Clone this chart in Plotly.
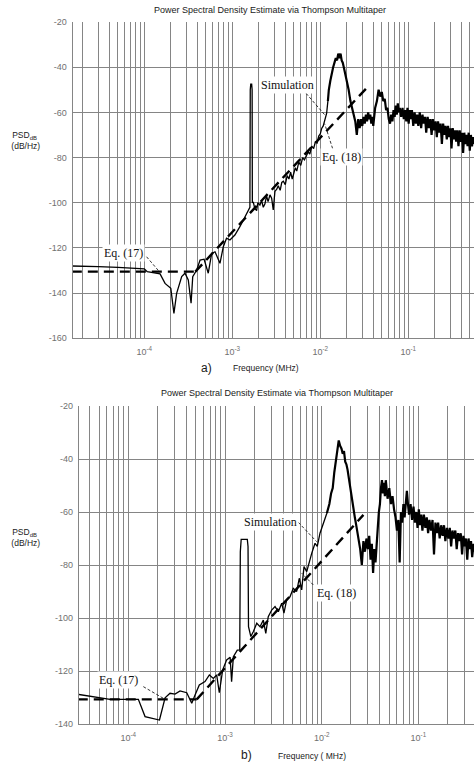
import math
import plotly.graph_objects as go

# ---------------- data: panel a) ----------------
sim_a_low_f = [
    1.5e-5, 2e-5, 3e-5, 5e-5, 8e-5, 1.0e-4, 1.08e-4, 1.51e-4, 1.72e-4, 2.0e-4,
    2.17e-4, 2.33e-4, 2.66e-4, 2.9e-4, 3.16e-4, 3.4e-4, 3.55e-4, 3.94e-4, 4.3e-4, 4.78e-4,
    5.33e-4, 5.83e-4, 6.36e-4, 7.24e-4, 7.9e-4, 8.6e-4, 9.4e-4, 1.07e-3, 1.22e-3, 1.39e-3,
    1.52e-3, 1.585e-3, 1.60e-3, 1.62e-3, 1.66e-3, 1.68e-3, 1.69e-3, 1.73e-3, 1.80e-3, 1.89e-3,
    1.95e-3, 2.06e-3, 2.15e-3, 2.25e-3, 2.35e-3, 2.45e-3, 2.55e-3, 2.68e-3, 2.80e-3, 2.92e-3,
    3.05e-3, 3.2e-3, 3.33e-3, 3.5e-3, 3.65e-3, 3.8e-3, 4.0e-3, 4.2e-3, 4.4e-3, 4.6e-3,
    4.8e-3, 5.0e-3, 5.2e-3, 5.4e-3, 5.7e-3, 6.0e-3, 6.3e-3, 6.6e-3, 7.0e-3, 7.3e-3,
    7.6e-3, 8.0e-3, 8.4e-3, 8.8e-3, 9.2e-3, 9.6e-3, 1.0e-2, 1.04e-2, 1.08e-2, 1.13e-2,
    1.18e-2, 1.22e-2,
]
sim_a_low_db = [
    -128, -128, -128.3, -128.6, -129, -129.3, -130.5, -131.5, -135.7, -137.9,
    -149, -140.1, -132.7, -131.2, -134.2, -144.5, -132.7, -129.8, -125.4, -125,
    -131.2, -122.4, -121.7, -126.8, -119.5, -115.7, -116.5, -114.3, -110.6, -106.2,
    -103.2, -102, -50, -47.5, -47.5, -50, -100, -99.6, -102.5, -103.5,
    -100, -101, -99, -102, -100.5, -97, -99.5, -96.5, -98, -103.2,
    -95, -94, -92.5, -94.5, -91, -90.5, -92, -88, -89.5, -86.5,
    -89.5, -87, -84.5, -86, -82, -83.5, -80, -81, -79, -77.5,
    -78.5, -75, -76, -73, -73.5, -70.5, -69.5, -67, -66, -63.5,
    -60.5, -55,
]
sim_a_hi_khz = [
    12.2, 12.5, 13, 13.5, 14, 14.5, 15, 15.5, 16, 16.5, 17,
    17.5, 18, 18.5, 19, 19.5, 20, 21, 22, 23, 24,
    25, 26, 27, 28, 29, 30, 31, 32, 33, 34,
    35, 36, 37, 38, 39, 40, 42, 44, 46, 48,
    50, 52, 54, 56, 58, 60, 62, 64, 66, 68,
    70, 72, 74, 76, 78, 80, 83, 86, 89, 92,
    95, 98, 101, 104, 107, 110, 114, 118, 122, 126,
    130, 135, 140, 145, 150, 155, 160, 166, 172, 178,
    184, 190, 197, 204, 211, 218, 225, 233, 241, 249,
    257, 265, 274, 283, 292, 301, 310, 320, 330, 340,
    350, 360, 372, 384, 396, 408, 420, 433, 446, 459,
    472, 486, 500, 515, 530, 545, 560,
]
sim_a_hi_db = [
    -55, -50, -46, -42, -40, -38, -36, -37, -34, -36, -34,
    -37, -38, -40, -42, -44, -46, -50, -55, -58, -61,
    -64, -70, -63, -67, -63, -66, -62, -65, -61, -64,
    -60, -63, -61, -65, -62, -66, -58, -55, -50, -53,
    -51, -55, -54, -59, -58, -63, -65, -61, -64, -59,
    -62, -57, -61, -56, -60, -58, -62, -58, -63, -59,
    -64, -58, -65, -59, -63, -59, -66, -60, -65, -61,
    -66, -60, -67, -61, -65, -62, -69, -62, -67, -63,
    -70, -63, -68, -64, -71, -64, -69, -65, -74, -65,
    -70, -66, -72, -66, -71, -67, -76, -67, -72, -68,
    -73, -68, -75, -68, -73, -69, -78, -69, -74, -70,
    -75, -69, -77, -70, -75, -71, -74,
]
eq17_a_f = [1.5e-5, 3.8e-4]
eq17_a_db = [-130.5, -130.5]
eq18_a_f = [3.8e-4, 3.5e-2]
eq18_a_db = [-130.5, -48.5]

# ---------------- data: panel b) ----------------
sim_b_low_f = [
    3.0e-5, 4e-5, 5e-5, 6.47e-5, 9e-5, 1.27e-4, 1.49e-4, 1.82e-4, 2.1e-4, 2.4e-4,
    2.7e-4, 3.04e-4, 3.43e-4, 4.02e-4, 4.53e-4, 4.9e-4, 5.42e-4, 6.21e-4, 6.89e-4, 7.57e-4,
    8.2e-4, 8.73e-4, 9.46e-4, 1.04e-3, 1.13e-3, 1.17e-3, 1.22e-3, 1.34e-3, 1.42e-3, 1.44e-3,
    1.47e-3, 1.70e-3, 1.73e-3, 1.75e-3, 1.85e-3, 1.96e-3, 2.13e-3, 2.3e-3, 2.49e-3, 2.64e-3,
    2.8e-3, 3.04e-3, 3.29e-3, 3.56e-3, 3.86e-3, 4.07e-3, 4.34e-3, 4.7e-3, 5.08e-3, 5.51e-3,
    5.86e-3, 6.21e-3, 6.56e-3, 7.0e-3, 7.45e-3, 7.88e-3, 8.53e-3, 9.0e-3, 9.6e-3, 1.04e-2,
    1.13e-2,
]
sim_b_low_db = [
    -128.8, -129.5, -130.1, -130.7, -130.7, -130.7, -137.2, -137.8, -138.5, -130.1,
    -128.4, -128.7, -127.5, -128.2, -132.2, -129.1, -125.3, -124, -121.5, -122.8,
    -121.5, -128.2, -119.6, -115.8, -114.8, -124, -114.6, -112.1, -112, -75,
    -70.3, -70.3, -73, -103.3, -107, -105.2, -102, -103.3, -100.8, -105.8,
    -99.5, -97, -95.7, -97.6, -94.4, -98.2, -93.2, -92, -88.8, -90,
    -85, -89.4, -80.6, -82.5, -78.7, -75.6, -71.8, -73, -68, -64.3,
    -60.5,
]
sim_b_hi_khz = [
    11.3, 12, 12.5, 13, 13.5, 14, 14.5, 15, 15.5, 16, 16.5,
    17, 17.5, 18, 18.5, 19, 19.5, 20, 21, 22, 23,
    24, 25, 26, 27, 28, 29, 30, 31, 32, 33,
    34, 35, 36, 37, 38, 39, 40, 41, 42, 43,
    44, 45, 46, 48, 50, 52, 54, 56, 58, 60,
    62, 64, 66, 68, 70, 72, 74, 76, 78, 80,
    83, 86, 89, 92, 95, 98, 101, 104, 107, 110,
    114, 118, 122, 126, 130, 135, 140, 145, 150, 155,
    160, 166, 172, 178, 184, 190, 197, 204, 211, 218,
    225, 233, 241, 249, 257, 265, 274, 283, 292, 301,
    310, 320, 330, 340, 350, 360, 372, 380,
]
sim_b_hi_db = [
    -60.5, -57, -53, -51, -45, -41, -37, -33, -35, -36, -38,
    -37, -41, -42, -44, -47, -50, -53, -58, -62, -66,
    -70, -74, -80, -71, -75, -70, -74, -69, -78, -72,
    -83, -74, -79, -70, -66, -60, -57, -51, -48, -53,
    -49, -54, -48, -55, -51, -57, -54, -59, -62, -67,
    -63, -79, -60, -64, -57, -62, -55, -52, -57, -61,
    -57, -63, -58, -64, -60, -66, -59, -65, -61, -67,
    -61, -66, -62, -68, -63, -67, -63, -76, -64, -68,
    -64, -70, -65, -69, -65, -71, -66, -70, -66, -73,
    -67, -70, -67, -74, -68, -71, -68, -76, -69, -73,
    -70, -78, -70, -74, -71, -77, -72, -75,
]
eq17_b_f = [3.0e-5, 5.1e-4]
eq17_b_db = [-130.7, -130.7]
eq18_b_f = [5.1e-4, 2.7e-2]
eq18_b_db = [-130.7, -61.1]

# tick labels
x_major = [1e-4, 1e-3, 1e-2, 1e-1]
x_major_text = ["10<sup>-4</sup>", "10<sup>-3</sup>", "10<sup>-2</sup>", "10<sup>-1</sup>"]
y_a_ticks = [-160, -140, -120, -100, -80, -60, -40, -20]
y_b_ticks = [-140, -120, -100, -80, -60, -40, -20]

title_text = "Power Spectral Density Estimate via Thompson Multitaper"

# ---------------- figure ----------------
W, H = 474, 765
GRID = "#858585"
SANS = "Liberation Sans"
SERIF = "Liberation Serif"

x_minor = [k * 10 ** e for e in range(-5, 1) for k in range(2, 10)]

def px(x):
    return x / W

def py(y):
    return 1 - y / H

fig = go.Figure()

def add_panel(low_f, low_db, hi_khz, hi_db, e17f, e17d, e18f, e18d, xa, ya):
    fig.add_trace(go.Scatter(x=low_f, y=low_db, mode="lines", xaxis=xa, yaxis=ya,
                             line=dict(color="black", width=1.3), showlegend=False,
                             hoverinfo="skip"))
    fig.add_trace(go.Scatter(x=[k / 1000.0 for k in hi_khz], y=hi_db, mode="lines",
                             xaxis=xa, yaxis=ya,
                             line=dict(color="black", width=2.2), showlegend=False,
                             hoverinfo="skip"))
    for ef, ed in ((e17f, e17d), (e18f, e18d)):
        fig.add_trace(go.Scatter(x=ef, y=ed, mode="lines", xaxis=xa, yaxis=ya,
                                 line=dict(color="black", width=2.4, dash="10px,6px"),
                                 showlegend=False, hoverinfo="skip"))

add_panel(sim_a_low_f, sim_a_low_db, sim_a_hi_khz, sim_a_hi_db,
          eq17_a_f, eq17_a_db, eq18_a_f, eq18_a_db, "x", "y")
add_panel(sim_b_low_f, sim_b_low_db, sim_b_hi_khz, sim_b_hi_db,
          eq17_b_f, eq17_b_db, eq18_b_f, eq18_b_db, "x2", "y2")

def xaxis_cfg(domain, rng, anchor):
    return dict(type="log", range=rng, domain=domain, anchor=anchor, automargin=False,
                tickmode="array", tickvals=x_major, ticktext=x_major_text,
                showgrid=True, gridcolor=GRID, gridwidth=1.3,
                minor=dict(tickmode="array", tickvals=x_minor, showgrid=True,
                           gridcolor=GRID, gridwidth=1.3, ticks=""),
                showline=True, linecolor=GRID, linewidth=1.3, ticks="",
                ticklabelstandoff=5,
                zeroline=False, tickfont=dict(family=SANS, size=9, color="#707070"))

def yaxis_cfg(domain, rng, ticks, anchor):
    return dict(range=rng, domain=domain, anchor=anchor, automargin=False,
                tickmode="array", tickvals=ticks, ticktext=[str(t) for t in ticks],
                showgrid=True, gridcolor=GRID, gridwidth=1.3,
                showline=True, linecolor=GRID, linewidth=1.3, ticks="",
                zeroline=False, ticklabelstandoff=3,
                tickfont=dict(family=SANS, size=9, color="#707070"))

fig.update_layout(
    template="none",
    width=W, height=H, autosize=False,
    margin=dict(l=0, r=0, t=0, b=0, pad=0),
    paper_bgcolor="white", plot_bgcolor="white",
    xaxis=xaxis_cfg([px(72.7), 1.0], [-4.814, -0.253], "y"),
    yaxis=yaxis_cfg([py(338.3), py(22)], [-160, -20], y_a_ticks, "x"),
    xaxis2=xaxis_cfg([px(79), 1.0], [-4.51, -0.425], "y2"),
    yaxis2=yaxis_cfg([py(724), py(406)], [-140, -20], y_b_ticks, "x2"),
)

anns = []
def ptext(x, y, text, size, family=SANS, color="#1a1a1a"):
    anns.append(dict(x=px(x), y=py(y), xref="paper", yref="paper", text=text,
                     showarrow=False, xanchor="center", yanchor="middle",
                     font=dict(family=family, size=size, color=color)))

ptext(270, 10, title_text, 9)
ptext(277, 393, title_text, 9)
ptext(206, 368, "a)", 12)
ptext(265.5, 368, "Frequency (MHz)", 8.5)
ptext(246.7, 755, "b)", 12)
ptext(311.7, 756, "Frequency ( MHz)", 8.5)
ptext(24, 140, "PSD<sub>dB</sub><br> (dB/Hz)", 8.5)
ptext(24, 537, "PSD<sub>dB</sub><br> (dB/Hz)", 8.5)

labels = [
    ("Eq. (17)", 5.77e-5, -122.4, ""),
    ("Simulation", 4.28e-3, -47.9, ""),
    ("Eq. (18)", 1.72e-2, -79.6, ""),
    ("Eq. (17)", 7.9e-5, -123.4, "2"),
    ("Simulation", 2.92e-3, -63.9, "2"),
    ("Eq. (18)", 1.43e-2, -90.7, "2"),
]
for text, f, d, s in labels:
    anns.append(dict(x=math.log10(f), y=d, xref="x" + s, yref="y" + s, text=text,
                     showarrow=False, bgcolor="white", borderpad=1,
                     font=dict(family=SERIF, size=12, color="#111111")))

leaders = [
    (1.06e-4, -123.9, 1.48e-4, -130.5, ""),
    (6.9e-3, -51.6, 1.13e-2, -61.2, ""),
    (1.38e-2, -76.0, 1.12e-2, -65.0, ""),
    (1.43e-4, -125.9, 2.3e-4, -130.3, "2"),
    (5.73e-3, -63.9, 8.87e-3, -71.2, "2"),
    (8.18e-3, -87.5, 6.21e-3, -83.1, "2"),
]
shapes = []
for f0, d0, f1, d1, s in leaders:
    shapes.append(dict(type="line", xref="x" + s, yref="y" + s, x0=f0, y0=d0, x1=f1, y1=d1,
                       line=dict(color="black", width=0.8, dash="3px,2px")))

fig.update_layout(annotations=anns, shapes=shapes)
fig.write_html("out.html", config={"displayModeBar": False},
               post_script="document.body.style.margin='0px';document.body.style.overflow='hidden';")
